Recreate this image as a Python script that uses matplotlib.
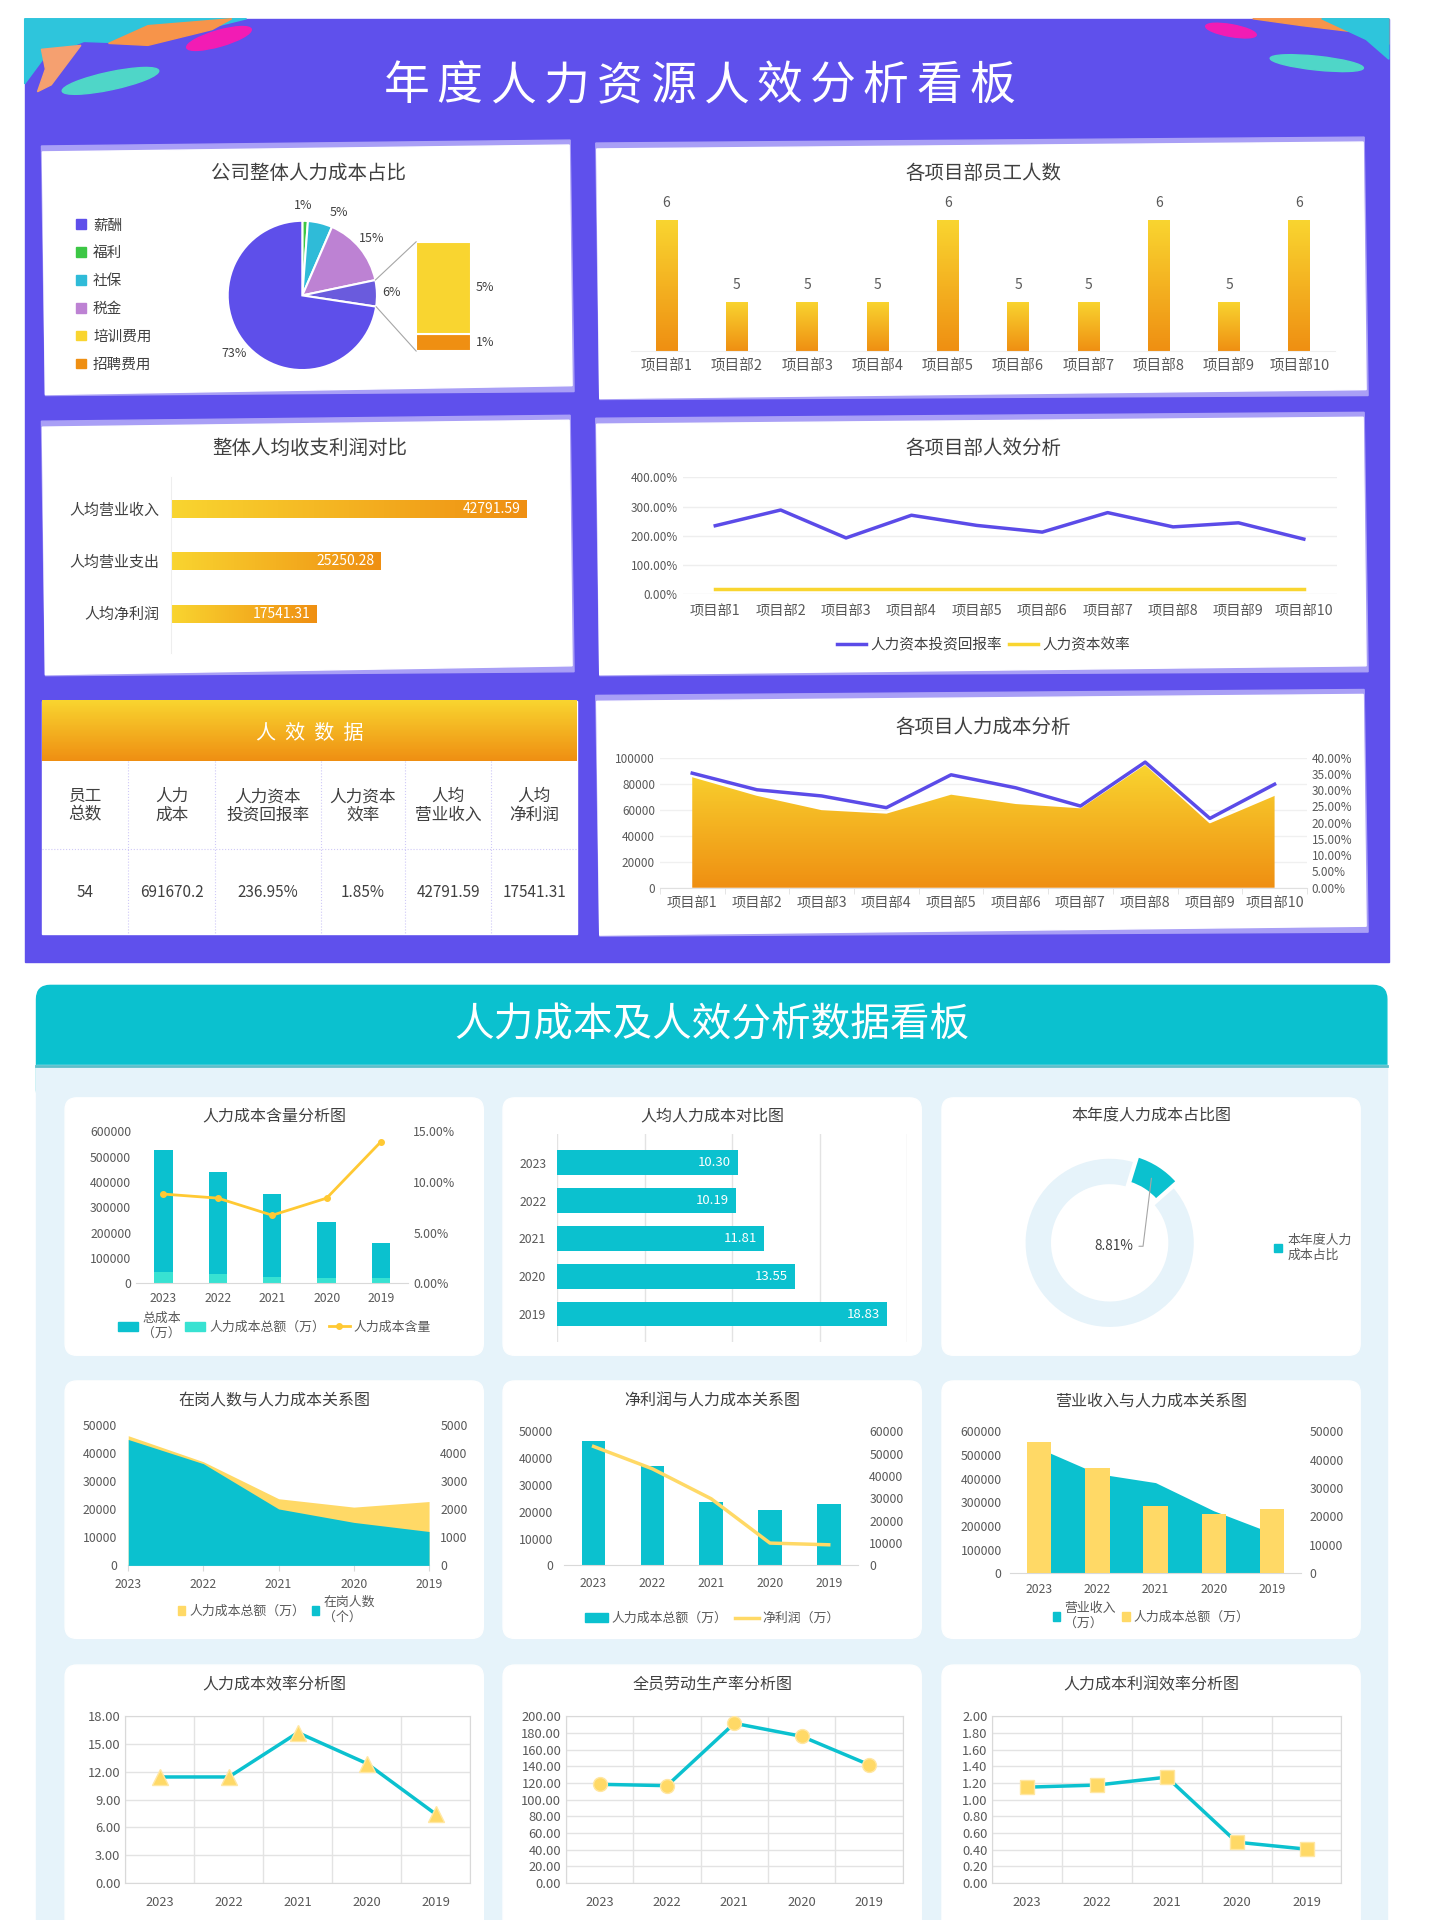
import numpy as np
import matplotlib
matplotlib.use("Agg")
import matplotlib.pyplot as plt
from matplotlib.patches import Rectangle, Polygon, FancyBboxPatch, Ellipse, Patch, PathPatch, ConnectionPatch
from matplotlib.colors import LinearSegmentedColormap
from matplotlib.ticker import FuncFormatter

plt.rcParams['font.family'] = ['Noto Sans CJK SC', 'DejaVu Sans']
plt.rcParams['axes.unicode_minus'] = False

# layout space (a little larger than the 1440x1920 canvas)
W, H = 1459.9, 1946.5

# ---------------- data ----------------
cost_parts = ['薪酬', '福利', '社保', '税金']
cost_part_pct = [72.6, 1.2, 5.3, 15.2]
other_parts = ['培训费用', '招聘费用']
other_part_pct = [4.8, 0.9]

depts = ['项目部%d' % i for i in range(1, 11)]
dept_staff = [6, 5, 5, 5, 6, 5, 5, 6, 5, 6]
dept_roi = [234, 288, 192, 270, 235, 212, 279, 230, 244, 188]
dept_eff = [17, 17, 17, 17, 17, 17, 17, 17, 17, 17]
dept_cost = [85700, 71400, 60400, 57700, 72300, 65100, 61800, 95300, 50300, 71400]
dept_cost_rate = [35.2, 30.1, 28.2, 24.6, 34.7, 30.7, 25.1, 38.6, 21.3, 31.8]

per_items = ['人均营业收入', '人均营业支出', '人均净利润']
per_values = [42791.59, 25250.28, 17541.31]

table_heads = ['员工\n总数', '人力\n成本', '人力资本\n投资回报率', '人力资本\n效率', '人均\n营业收入', '人均\n净利润']
table_values = ['54', '691670.2', '236.95%', '1.85%', '42791.59', '17541.31']

years = ['2023', '2022', '2021', '2020', '2019']
total_cost = [525800, 438400, 351000, 243700, 160300]
labor_cost = [46300, 37000, 23800, 20800, 22800]
labor_share = [8.81, 8.41, 6.72, 8.41, 14.0]
per_labor_cost = [10.30, 10.19, 11.81, 13.55, 18.83]
year_share = 8.81
staff = [4495, 3630, 2015, 1535, 1210]
net_profit = [53200, 43200, 29800, 9980, 9220]
revenue = [528000, 421000, 383000, 264000, 170000]
cost_eff = [11.45, 11.45, 16.24, 12.90, 7.42]
labor_prod = [118.4, 116.8, 191.6, 176.0, 142.0]
profit_eff = [1.15, 1.175, 1.27, 0.49, 0.406]

# ---------------- colours ----------------
PURPLE = '#5F50EC'
LAV = '#A99FF6'
BLUE = '#5B4BE8'
YEL = '#F9D530'
ORG = '#EF8F12'
TEAL = '#0BC1CF'
TURQ = '#38E2D2'
LYEL = '#FFD966'
GOLD = '#FFC933'
LBLUE = '#E6F3FA'
TXT = '#595959'
TTL = '#404040'


def rect(x0, y0, x1, y1):
    return [x0 / W, 1 - y1 / H, (x1 - x0) / W, (y1 - y0) / H]


def fxy(x, y):
    return (x / W, 1 - y / H)


def cmap2(c0, c1):
    return LinearSegmentedColormap.from_list('g', [c0, c1])


def grad_patch(ax, patch, extent, c0, c1, horizontal=False):
    arr = np.linspace(0, 1, 256).reshape(1, -1) if horizontal else np.linspace(0, 1, 256).reshape(-1, 1)
    im = ax.imshow(arr, extent=extent, origin='lower', aspect='auto', cmap=cmap2(c0, c1), zorder=2)
    im.set_clip_path(patch)
    patch.set_facecolor('none')
    patch.set_edgecolor('none')


def clean(ax, size=8.5):
    ax.set_facecolor('none')
    for s in ax.spines.values():
        s.set_visible(False)
    ax.tick_params(length=0, labelsize=size, colors=TXT)


fig = plt.figure(figsize=(14.4, 19.2), dpi=100)
bg = fig.add_axes([0, 0, 1, 1])
bg.axis('off')

# ---------------- top section background ----------------
bg.add_patch(Rectangle((25, 19), 1383, 956, color=PURPLE, zorder=0))
# decorative strokes
bg.add_patch(Polygon([(25, 19), (250, 19), (205, 30), (140, 44), (85, 42), (45, 58), (25, 85)], color='#2EC5DC', zorder=1))
bg.add_patch(Polygon([(150, 26), (235, 19), (215, 30), (150, 46), (110, 44)], color='#F7944A', zorder=1))
bg.add_patch(Polygon([(42, 50), (82, 46), (70, 62), (52, 86), (38, 93), (46, 70)], color='#F5A070', zorder=1))
bg.add_patch(Ellipse((222, 39), 68, 16, angle=-16, color='#F21CB4', zorder=1))
bg.add_patch(Ellipse((112, 82), 100, 18, angle=-12, color='#4FD6C8', zorder=1))
bg.add_patch(Ellipse((1248, 31), 52, 12, angle=10, color='#F21CB4', zorder=1))
bg.add_patch(Polygon([(1270, 19), (1408, 19), (1408, 45), (1370, 32), (1320, 26)], color='#F7944A', zorder=1))
bg.add_patch(Polygon([(1340, 19), (1408, 19), (1408, 60), (1385, 40)], color='#2EC5DC', zorder=1))
bg.add_patch(Ellipse((1335, 64), 95, 14, angle=6, color='#4FD6C8', zorder=1))

title = '年度人力资源人效分析看板'
for i, ch in enumerate(title):
    bg.text(412 + i * 54, 87, ch, fontsize=33, color='white', ha='center', va='center', zorder=3)


def card(x0, y0, x1, y1):
    bg.add_patch(Polygon([(x0 - 1, y0 + 2), (x1, y0 - 4), (x1 + 4, y1 - 3), (x0 + 3, y1 + 1)], color=LAV, zorder=1))
    bg.add_patch(Polygon([(x0, y0 + 8), (x1 - 1, y0 + 1), (x1 + 2, y1 - 9), (x0 + 3, y1)], color='white', zorder=2))


card(43, 146, 578, 400)
card(605, 143, 1383, 404)
card(43, 425, 578, 684)
card(605, 422, 1383, 684)
card(605, 703, 1383, 948)

panel_titles = [('公司整体人力成本占比', 313, 176), ('各项目部员工人数', 997, 176),
                ('整体人均收支利润对比', 314, 455), ('各项目部人效分析', 997, 455),
                ('各项目人力成本分析', 997, 738)]
for t, x, y in panel_titles:
    bg.text(x, y, t, fontsize=14, color=TTL, ha='center', va='center', zorder=3)

# ---------------- table ----------------
bg.add_patch(Rectangle((43, 711), 542, 236, color='white', zorder=2))
hdr = np.linspace(0, 1, 100).reshape(-1, 1)
bg.imshow(hdr, extent=(43, 585, 772, 711), origin='upper', aspect='auto', cmap=cmap2(YEL, ORG), zorder=3)
bg.text(314, 744, '人  效  数  据', fontsize=14.5, color='white', ha='center', va='center', zorder=4)
col_x = [43, 130, 218, 325, 411, 498, 585]
for cx in col_x[1:-1]:
    bg.plot([cx, cx], [772, 947], color='#CFC9F7', lw=0.8, ls=':', zorder=4)
bg.plot([43, 585], [861, 861], color='#CFC9F7', lw=0.8, ls=':', zorder=4)
for i in range(6):
    xc = (col_x[i] + col_x[i + 1]) / 2
    bg.text(xc, 817, table_heads[i], fontsize=12, color=TTL, ha='center', va='center', linespacing=1.1, zorder=4)
    bg.text(xc, 905, table_values[i], fontsize=11, color=TTL, ha='center', va='center', zorder=4)

# ---------------- bottom section background ----------------
bg.add_patch(FancyBboxPatch((37, 999), 1369, 120, boxstyle='round,pad=0,rounding_size=14', color=TEAL, zorder=1))
bg.add_patch(Rectangle((37, 1080), 1369, 870, color=LBLUE, zorder=2))
bg.plot([37, 1406], [1081, 1081], color='#5DBFCA', lw=2, zorder=3)
bg.text(722, 1040, '人力成本及人效分析数据看板', fontsize=28.5, color='white', ha='center', va='center', zorder=3)

cols = [(66, 490), (510, 934), (955, 1379)]
rows = [(1113, 1374), (1400, 1661), (1688, 1985)]
card_titles = [['人力成本含量分析图', '人均人力成本对比图', '本年度人力成本占比图'],
               ['在岗人数与人力成本关系图', '净利润与人力成本关系图', '营业收入与人力成本关系图'],
               ['人力成本效率分析图', '全员劳动生产率分析图', '人力成本利润效率分析图']]
for r, (y0, y1) in enumerate(rows):
    for c, (x0, x1) in enumerate(cols):
        bg.add_patch(FancyBboxPatch((x0, y0), x1 - x0, y1 - y0, boxstyle='round,pad=0,rounding_size=12',
                                    color='white', zorder=3))
        bg.text((x0 + x1) / 2, y0 + 18 + (2 if r else 0), card_titles[r][c], fontsize=11.5, color=TTL,
                ha='center', va='center', zorder=4)

bg.set_xlim(0, W)
bg.set_ylim(H, 0)

# ---------------- panel 1: pie of pie ----------------
pie_colors = ['#3CC745', '#2FBBD8', '#BD82D3', '#6A5BDD', '#5E4FEA']
pie_vals = [cost_part_pct[1], cost_part_pct[2], cost_part_pct[3], sum(other_part_pct), cost_part_pct[0]]
axp = fig.add_axes(rect(193, 186, 420, 413))
wedges, _, pct_txt = axp.pie(pie_vals, colors=pie_colors, startangle=90, counterclock=False,
                             autopct='%.0f%%', pctdistance=1.2,
                             wedgeprops=dict(edgecolor='white', linewidth=1.5))
for t in pct_txt:
    t.set_fontsize(9)
    t.set_color(TTL)
# spread the two small labels at the top apart
px, py = pct_txt[0].get_position()
pct_txt[0].set_position((px - 0.04, py))
px, py = pct_txt[1].get_position()
pct_txt[1].set_position((px + 0.2, py - 0.05))
axp.set_xlim(-1.5, 1.5)
axp.set_ylim(-1.5, 1.5)
axp.set_aspect('equal')
axp.axis('off')

axb = fig.add_axes(rect(422, 245, 478, 356))
axb.bar(0, other_part_pct[1], width=1, color=ORG, edgecolor='white', linewidth=1.5)
axb.bar(0, other_part_pct[0], bottom=other_part_pct[1], width=1, color=YEL, edgecolor='white', linewidth=1.5)
axb.set_xlim(-0.5, 0.5)
axb.set_ylim(0, sum(other_part_pct))
axb.axis('off')
axb.text(0.75, other_part_pct[1] + other_part_pct[0] / 2, '%.0f%%' % other_part_pct[0], fontsize=9,
         color=TTL, va='center', ha='center')
axb.text(0.75, other_part_pct[1] / 2, '%.0f%%' % other_part_pct[1], fontsize=9, color=TTL,
         va='center', ha='center')
w_other = wedges[3]
for ang, yb in [(w_other.theta2, sum(other_part_pct)), (w_other.theta1, 0)]:
    con = ConnectionPatch(xyA=(np.cos(np.radians(ang)), np.sin(np.radians(ang))), coordsA=axp.transData,
                          xyB=(-0.5, yb), coordsB=axb.transData, color='#A6A6A6', lw=0.8)
    fig.add_artist(con)

leg_labels = cost_parts + other_parts
leg_colors = ['#5E4FEA', '#3CC745', '#2FBBD8', '#BD82D3', YEL, ORG]
fig.legend([Patch(color=c) for c in leg_colors], leg_labels, loc='upper left', bbox_to_anchor=fxy(64, 208),
           frameon=False, fontsize=10.5, handlelength=0.65, handleheight=0.65, labelspacing=0.95,
           handletextpad=0.5, labelcolor=TTL)

# ---------------- panel 2: staff per dept ----------------
ax = fig.add_axes(rect(640, 190, 1353, 356))
clean(ax, 10.5)
x10 = np.arange(10)
bars = ax.bar(x10, dept_staff, width=0.31)
ylo = 4.4
for b in bars:
    grad_patch(ax, b, (b.get_x(), b.get_x() + b.get_width(), ylo, b.get_height()), ORG, YEL)
for i, v in enumerate(dept_staff):
    ax.annotate(str(v), (i, v), xytext=(0, 7), textcoords='offset points', ha='center', va='bottom',
                fontsize=10, color=TXT)
ax.set_xlim(-0.5, 9.5)
ax.set_ylim(ylo, 6.4)
ax.set_yticks([])
ax.set_xticks(x10)
ax.set_xticklabels(depts)
ax.tick_params(axis='x', pad=6)
ax.spines['bottom'].set_visible(True)
ax.spines['bottom'].set_color('#EEEEEE')

# ---------------- panel 3: per-capita bars ----------------
ax = fig.add_axes(rect(173, 484, 552, 662))
clean(ax, 10.8)
hb = ax.barh(range(3), per_values, height=0.34)
for b in hb:
    grad_patch(ax, b, (0, b.get_width(), b.get_y(), b.get_y() + b.get_height()), YEL, ORG, horizontal=True)
for i, v in enumerate(per_values):
    ax.text(v - 700, i, '%.2f' % v, ha='right', va='center', color='white', fontsize=10, zorder=5)
ax.set_xlim(0, 45000)
ax.set_ylim(2.75, -0.6)
ax.set_xticks([])
ax.set_yticks(range(3))
ax.set_yticklabels(per_items, color=TTL)
ax.tick_params(axis='y', pad=8)
ax.spines['left'].set_visible(True)
ax.spines['left'].set_color('#EEEEEE')

# ---------------- panel 4: efficiency lines ----------------
ax = fig.add_axes(rect(692, 484, 1355, 602))
clean(ax, 8.5)
l1, = ax.plot(x10, dept_roi, color=BLUE, lw=2.5)
l2, = ax.plot(x10, dept_eff, color=YEL, lw=2.5)
ax.set_xlim(-0.5, 9.5)
ax.set_ylim(0, 400)
ax.set_yticks(range(0, 401, 100))
ax.yaxis.set_major_formatter(FuncFormatter(lambda v, p: '%.2f%%' % v))
ax.grid(axis='y', color='#EEEEEE', lw=1)
ax.set_axisbelow(True)
ax.set_xticks(x10)
ax.set_xticklabels(depts, fontsize=10.3)
ax.tick_params(axis='x', pad=7)
fig.legend([l1, l2], ['人力资本投资回报率', '人力资本效率'], loc='center', bbox_to_anchor=fxy(997, 654),
           ncol=2, frameon=False, fontsize=10.5, handlelength=2.0, columnspacing=0.5, handletextpad=0.3,
           labelcolor=TTL)

# ---------------- panel 6: cost area + rate line ----------------
ax = fig.add_axes(rect(669, 768, 1325, 900))
clean(ax, 8.5)
poly = ax.fill_between(x10, dept_cost, color='none')
pp = PathPatch(poly.get_paths()[0], transform=ax.transData, facecolor='none', edgecolor='none')
ax.add_patch(pp)
im = ax.imshow(np.linspace(0, 1, 256).reshape(-1, 1), extent=(0, 9, 0, max(dept_cost)), origin='lower',
               aspect='auto', cmap=cmap2(ORG, YEL), zorder=2)
im.set_clip_path(pp)
ax.plot(x10, dept_cost, color='white', lw=1.5, zorder=3)
ax.set_xlim(-0.5, 9.5)
ax.set_ylim(0, 100000)
ax.set_yticks(range(0, 100001, 20000))
ax.grid(axis='y', color='#F0F0F0', lw=1)
ax.set_axisbelow(True)
ax.set_xticks(x10)
ax.set_xticklabels(depts, fontsize=10.3)
ax.set_xticks(np.arange(-0.5, 10, 1), minor=True)
ax.tick_params(axis='x', which='minor', length=4, color='#E0E0E0')
ax.tick_params(axis='x', pad=6)
ax.spines['bottom'].set_visible(True)
ax.spines['bottom'].set_color('#E0E0E0')
ax2 = ax.twinx()
clean(ax2, 8.5)
ax2.plot(x10, dept_cost_rate, color=BLUE, lw=2.5)
ax2.set_ylim(0, 40)
ax2.set_yticks(range(0, 41, 5))
ax2.yaxis.set_major_formatter(FuncFormatter(lambda v, p: '%.2f%%' % v))

# ---------------- bottom charts ----------------
x5 = np.arange(5)
TS = 8.8

# A: cost content
ax = fig.add_axes(rect(138, 1147, 414, 1301))
clean(ax, TS)
ax.bar(x5, total_cost, width=0.34, color=TEAL)
ax.bar(x5, labor_cost, width=0.34, color=TURQ)
ax.set_xlim(-0.5, 4.5)
ax.set_ylim(0, 600000)
ax.set_yticks(range(0, 600001, 100000))
ax.set_xticks(x5)
ax.set_xticklabels(years)
ax.tick_params(axis='x', pad=6)
ax.spines['bottom'].set_visible(True)
ax.spines['bottom'].set_color('#D9D9D9')
ax2 = ax.twinx()
clean(ax2, TS)
l3, = ax2.plot(x5, labor_share, color=GOLD, lw=2, marker='o', ms=4)
ax2.set_ylim(0, 15)
ax2.set_yticks([0, 5, 10, 15])
ax2.yaxis.set_major_formatter(FuncFormatter(lambda v, p: '%.2f%%' % v))
fig.legend([Patch(color=TEAL), Patch(color=TURQ), l3], ['总成本\n（万）', '人力成本总额（万）', '人力成本含量'],
           loc='upper center', bbox_to_anchor=fxy(278, 1318), ncol=3, frameon=False, fontsize=9.3,
           handlelength=1.6, handleheight=0.7, columnspacing=0.3, handletextpad=0.3, labelcolor=TXT)

# B: per capita labour cost
ax = fig.add_axes(rect(565, 1150, 920, 1361))
clean(ax, TS)
ax.barh(x5, per_labor_cost, height=0.65, color=TEAL, zorder=2)
for i, v in enumerate(per_labor_cost):
    ax.text(v - 0.4, i, '%.2f' % v, ha='right', va='center', color='white', fontsize=9.5, zorder=3)
ax.set_xlim(0, 20)
ax.set_ylim(4.75, -0.75)
ax.set_xticks([0, 5, 10, 15, 20])
ax.set_xticklabels([])
ax.grid(axis='x', color='#E3E3E3', lw=1)
ax.set_axisbelow(True)
ax.set_yticks(x5)
ax.set_yticklabels(years)
ax.tick_params(axis='y', pad=8)

# C: donut
ax = fig.add_axes(rect(995, 1130, 1255, 1390))
dw, _ = ax.pie([year_share, 100 - year_share], colors=[TEAL, LBLUE], startangle=73, counterclock=False,
               explode=[0.07, 0], wedgeprops=dict(width=0.33, edgecolor='white', linewidth=2))
ax.set_xlim(-1.5, 1.5)
ax.set_ylim(-1.5, 1.5)
ax.set_aspect('equal')
ax.axis('off')
mid = np.radians((dw[0].theta1 + dw[0].theta2) / 2)
ax.annotate('%.2f%%' % year_share, xy=(0.9 * np.cos(mid), 0.9 * np.sin(mid)),
            xytext=(0.05, -0.04), ha='center', va='center', fontsize=9.8, color=TTL,
            arrowprops=dict(arrowstyle='-', color='#A6A6A6', lw=0.8, shrinkA=2, shrinkB=0,
                            connectionstyle='angle,angleA=0,angleB=83,rad=0'))
fig.legend([Patch(color=TEAL)], ['本年度人力\n成本占比'], loc='center left', bbox_to_anchor=fxy(1280, 1265),
           frameon=False, fontsize=9.3, handlelength=0.6, handleheight=0.6, handletextpad=0.4, labelcolor=TXT)

# D: staff vs labour cost
ax = fig.add_axes(rect(130, 1445, 435, 1587))
clean(ax, TS)
ax.fill_between(x5, labor_cost, color=LYEL, lw=0)
ax.set_xlim(0, 4)
ax.set_ylim(0, 50000)
ax.set_yticks(range(0, 50001, 10000))
ax.set_xticks(x5)
ax.set_xticklabels(years)
ax.tick_params(axis='x', length=4, color='#D9D9D9', pad=5)
ax.tick_params(axis='y', pad=8)
ax.spines['bottom'].set_visible(True)
ax.spines['bottom'].set_color('#D9D9D9')
ax2 = ax.twinx()
clean(ax2, TS)
ax2.fill_between(x5, staff, color=TEAL, lw=0)
ax2.set_ylim(0, 5000)
ax2.set_yticks(range(0, 5001, 1000))
ax2.tick_params(axis='y', pad=8)
fig.legend([Patch(color=LYEL), Patch(color=TEAL)], ['人力成本总额（万）', '在岗人数\n（个）'],
           loc='upper center', bbox_to_anchor=fxy(280, 1606), ncol=2, frameon=False, fontsize=9.3,
           handlelength=0.6, handleheight=0.7, columnspacing=0.5, handletextpad=0.3, labelcolor=TXT)

# E: net profit vs labour cost
ax = fig.add_axes(rect(572, 1451, 870, 1587))
clean(ax, TS)
ax.bar(x5, labor_cost, width=0.4, color=TEAL)
ax.set_xlim(-0.5, 4.5)
ax.set_ylim(0, 50000)
ax.set_yticks(range(0, 50001, 10000))
ax.set_xticks(x5)
ax.set_xticklabels(years)
ax.tick_params(axis='x', pad=8)
ax.tick_params(axis='y', pad=8)
ax.spines['bottom'].set_visible(True)
ax.spines['bottom'].set_color('#D9D9D9')
ax2 = ax.twinx()
clean(ax2, TS)
l4, = ax2.plot(x5, net_profit, color=LYEL, lw=2.5)
ax2.set_ylim(0, 60000)
ax2.set_yticks(range(0, 60001, 10000))
ax2.tick_params(axis='y', pad=8)
fig.legend([Patch(color=TEAL), l4], ['人力成本总额（万）', '净利润（万）'], loc='center',
           bbox_to_anchor=fxy(722, 1641), ncol=2, frameon=False, fontsize=9.3, handlelength=1.8,
           handleheight=0.7, columnspacing=0.6, handletextpad=0.3, labelcolor=TXT)

# F: revenue vs labour cost
ax = fig.add_axes(rect(1024, 1451, 1319, 1595))
clean(ax, TS)
ax.fill_between(x5, revenue, color=TEAL, lw=0)
ax.set_xlim(-0.5, 4.5)
ax.set_ylim(0, 600000)
ax.set_yticks(range(0, 600001, 100000))
ax.set_xticks(x5)
ax.set_xticklabels(years)
ax.tick_params(axis='x', pad=7)
ax.tick_params(axis='y', pad=6)
ax.spines['bottom'].set_visible(True)
ax.spines['bottom'].set_color('#D9D9D9')
ax2 = ax.twinx()
clean(ax2, TS)
ax2.bar(x5, labor_cost, width=0.42, color=LYEL)
ax2.set_ylim(0, 50000)
ax2.set_yticks(range(0, 50001, 10000))
ax2.tick_params(axis='y', pad=6)
fig.legend([Patch(color=TEAL), Patch(color=LYEL)], ['营业收入\n（万）', '人力成本总额（万）'],
           loc='upper center', bbox_to_anchor=fxy(1167, 1612), ncol=2, frameon=False, fontsize=9.3,
           handlelength=0.6, handleheight=0.7, columnspacing=0.5, handletextpad=0.3, labelcolor=TXT)


# G/H/I: efficiency lines
def eff_chart(box, values, top, step, marker, ms):
    ax = fig.add_axes(rect(*box))
    ax.set_facecolor('none')
    for s in ax.spines.values():
        s.set_color('#D9D9D9')
    ax.tick_params(length=0, labelsize=9.3, colors=TXT)
    ax.plot(x5, values, color=TEAL, lw=2.5, marker=marker, ms=ms, mfc=LYEL, mec='#FFE7A3', zorder=3)
    ax.set_xlim(-0.5, 4.5)
    ax.set_ylim(0, top)
    ax.set_yticks(np.arange(0, top + step / 2, step))
    ax.yaxis.set_major_formatter(FuncFormatter(lambda v, p: '%.2f' % v))
    ax.set_xticks(x5)
    ax.set_xticklabels(years)
    ax.set_xticks(np.arange(-0.5, 5, 1), minor=True)
    ax.tick_params(axis='x', which='minor', length=0)
    ax.tick_params(axis='x', pad=9)
    ax.grid(axis='y', which='major', color='#E3E3E3', lw=1)
    ax.grid(axis='x', which='minor', color='#E3E3E3', lw=1)
    ax.set_axisbelow(True)
    return ax


eff_chart((127, 1740, 477, 1909), cost_eff, 18, 3, '^', 11)
eff_chart((574, 1740, 915, 1909), labor_prod, 200, 20, 'o', 10)
eff_chart((1006, 1740, 1360, 1909), profit_eff, 2, 0.2, 's', 10)

fig.savefig('out.png', dpi=100)
